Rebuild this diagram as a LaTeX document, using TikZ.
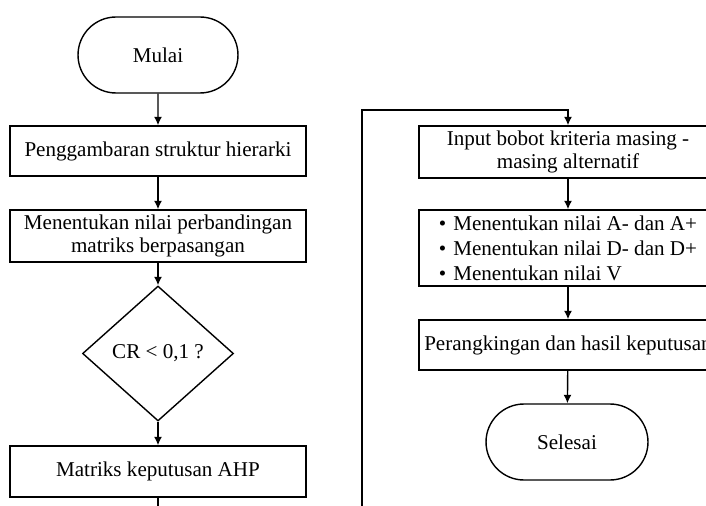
\documentclass[tikz,border=0pt]{standalone}
\usepackage{fontspec}
\setmainfont{Liberation Serif}
\usepackage{tikz}
\usetikzlibrary{shapes.geometric,shapes.misc,arrows.meta}

\tikzset{
  procbox/.style={draw,rectangle,minimum width=5.92cm,minimum height=1.0cm,inner sep=0pt,align=center},
  terminal/.style={draw,rounded rectangle,minimum width=3.2cm,minimum height=1.52cm,inner sep=0pt},
  decision/.style={draw,diamond,minimum width=3.02cm,minimum height=2.7cm,inner sep=0pt},
}

\begin{document}
\begin{tikzpicture}[x=0.02cm,y=-0.02cm,line width=0.8pt,>={Latex[length=0.17cm,width=0.16cm]},font=\fontsize{12}{13.6}\selectfont]
  \clip (0,0) rectangle (706,506);
  \useasboundingbox (0,0) rectangle (706,506);

  % left column
  \node (mulai)    at (158,55)    [terminal] {Mulai};
  \node (hierarki) at (158,151)   [procbox] {Penggambaran struktur hierarki};
  \node (matriks)  at (158,236)   [procbox,minimum height=1.04cm] {Menentukan nilai perbandingan\\matriks berpasangan};
  \node (cr)       at (158,353.5) [decision] {CR < 0,1 ?};
  \node (ahp)      at (158,471.5) [procbox,minimum height=1.02cm] {Matriks keputusan AHP};

  % right column
  \node (bobot)    at (568,152)   [procbox,minimum width=5.96cm,minimum height=1.04cm] {Input bobot kriteria masing -\\masing alternatif};
  \node (topsis)   at (568,248)   [procbox,minimum width=5.96cm,minimum height=1.52cm,align=left,font=\fontsize{12}{14.2}\selectfont] {%
    \textbullet\hspace{0.14cm}Menentukan nilai A- dan A+\\
    \textbullet\hspace{0.14cm}Menentukan nilai D- dan D+\\
    \textbullet\hspace{0.14cm}Menentukan nilai V};
  \node (rank)     at (568,345)   [procbox,minimum width=5.96cm] {Perangkingan dan hasil keputusan};
  \node (selesai)  at (567,442)   [terminal,minimum width=3.24cm] {Selesai};

  \coordinate (offL) at (158,512);
  \coordinate (offR) at (362,512);
  \coordinate (turn) at (362,110);

  \draw[->] (mulai) -- (hierarki);
  \draw[->] (hierarki) -- (matriks);
  \draw[->] (matriks) -- (cr);
  \draw[->] (cr) -- (ahp);
  \draw (ahp) -- (offL);
  \draw[->] (offR) -- (turn) -| (bobot.north);
  \draw[->] (bobot) -- (topsis);
  \draw[->] (topsis) -- (rank);
  \draw[->] (rank) -- (selesai);
\end{tikzpicture}
\end{document}
